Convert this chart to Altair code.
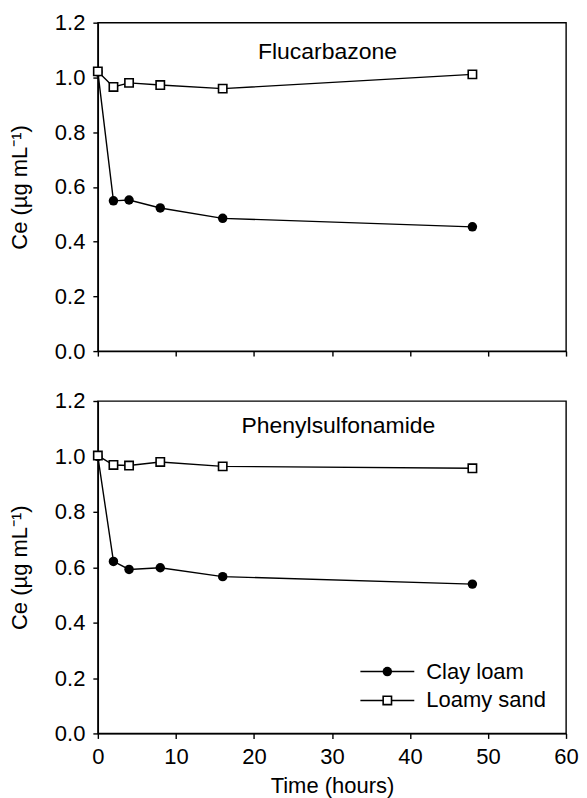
import altair as alt
import pandas as pd

times = [0, 2, 4, 8, 16, 48]
flu_clay = [1.02, 0.549, 0.552, 0.523, 0.485, 0.454]
flu_sand = [1.022, 0.965, 0.980, 0.972, 0.959, 1.011]
phe_clay = [1.0, 0.621, 0.592, 0.598, 0.566, 0.539]
phe_sand = [1.003, 0.969, 0.967, 0.980, 0.964, 0.957]
soils = ["Clay loam", "Loamy sand"]
titles = ["Flucarbazone", "Phenylsulfonamide"]
x_ticks = [0, 10, 20, 30, 40, 50, 60]
y_ticks = [0.0, 0.2, 0.4, 0.6, 0.8, 1.0, 1.2]

FONT = "Liberation Sans"
FS = 22
W = 469


def panel(clay, sand, title, show_x, legend, h):
    df = pd.DataFrame({
        "t": times * 2,
        "ce": clay + sand,
        "soil": [soils[0]] * len(times) + [soils[1]] * len(times),
    })
    xaxis = alt.Axis(values=x_ticks, labels=show_x, title="Time (hours)" if show_x else None,
                     format="d")
    yaxis = alt.Axis(values=y_ticks, format=".1f", title="Ce (µg mL⁻¹)")
    base = alt.Chart(df).encode(
        x=alt.X("t:Q", scale=alt.Scale(domain=[0, 60], nice=False), axis=xaxis),
        y=alt.Y("ce:Q", scale=alt.Scale(domain=[0, 1.2], nice=False), axis=yaxis),
    )
    lines = base.mark_line(color="black", strokeWidth=1.4).encode(detail="soil:N")
    clay_pts = base.transform_filter(alt.datum.soil == soils[0]).mark_point(
        shape="circle", filled=True, color="black", size=90, opacity=1)
    sand_pts = base.transform_filter(alt.datum.soil == soils[1]).mark_point(
        shape="square", filled=True, fill="white", stroke="black", strokeWidth=1.6,
        size=70, opacity=1)
    tdf = pd.DataFrame({"label": [title]})
    tx = 230 if title == titles[0] else 241
    ty = 29 if title == titles[0] else 25
    ttext = alt.Chart(tdf).mark_text(font=FONT, fontSize=23, color="black").encode(
        x=alt.value(tx), y=alt.value(ty), text="label:N")
    layers = [lines, clay_pts, sand_pts, ttext]
    if legend:
        for i, s in enumerate(soils):
            ld = pd.DataFrame({"label": [s]})
            yy = 271 + 29 * i
            lb = alt.Chart(ld)
            layers.append(lb.mark_rule(color="black", strokeWidth=1.4).encode(
                x=alt.value(263), x2=alt.value(317), y=alt.value(yy)))
            if i == 0:
                layers.append(lb.mark_point(shape="circle", filled=True, color="black",
                                            size=90, opacity=1).encode(
                    x=alt.value(290), y=alt.value(yy)))
            else:
                layers.append(lb.mark_point(shape="square", filled=True, fill="white",
                                            stroke="black", strokeWidth=1.6, size=70,
                                            opacity=1).encode(
                    x=alt.value(290), y=alt.value(yy)))
            layers.append(lb.mark_text(font=FONT, fontSize=FS, color="black", align="left",
                                       baseline="middle").encode(
                x=alt.value(329), y=alt.value(yy), text="label:N"))
    return alt.layer(*layers).properties(width=W, height=h)


top = panel(flu_clay, flu_sand, titles[0], False, False, 329)
bottom = panel(phe_clay, phe_sand, titles[1], True, True, 333)

chart = alt.vconcat(top, bottom, spacing=26).configure_view(
    stroke="black", strokeWidth=1.4
).configure_axis(
    labelFont=FONT, titleFont=FONT, labelFontSize=FS, titleFontSize=FS,
    labelColor="black", titleColor="black", domainColor="black", tickColor="black",
    domainWidth=1.4, tickWidth=1.4, tickSize=5, labelPadding=8, grid=False,
    titleFontWeight="normal", labelFlush=False,
).configure_axisX(titlePadding=8).configure_axisY(titlePadding=23).properties(
    padding={"left": -1, "top": 2, "right": 0, "bottom": 0})

chart.save("out.html", embed_options={"renderer": "svg", "actions": False})
